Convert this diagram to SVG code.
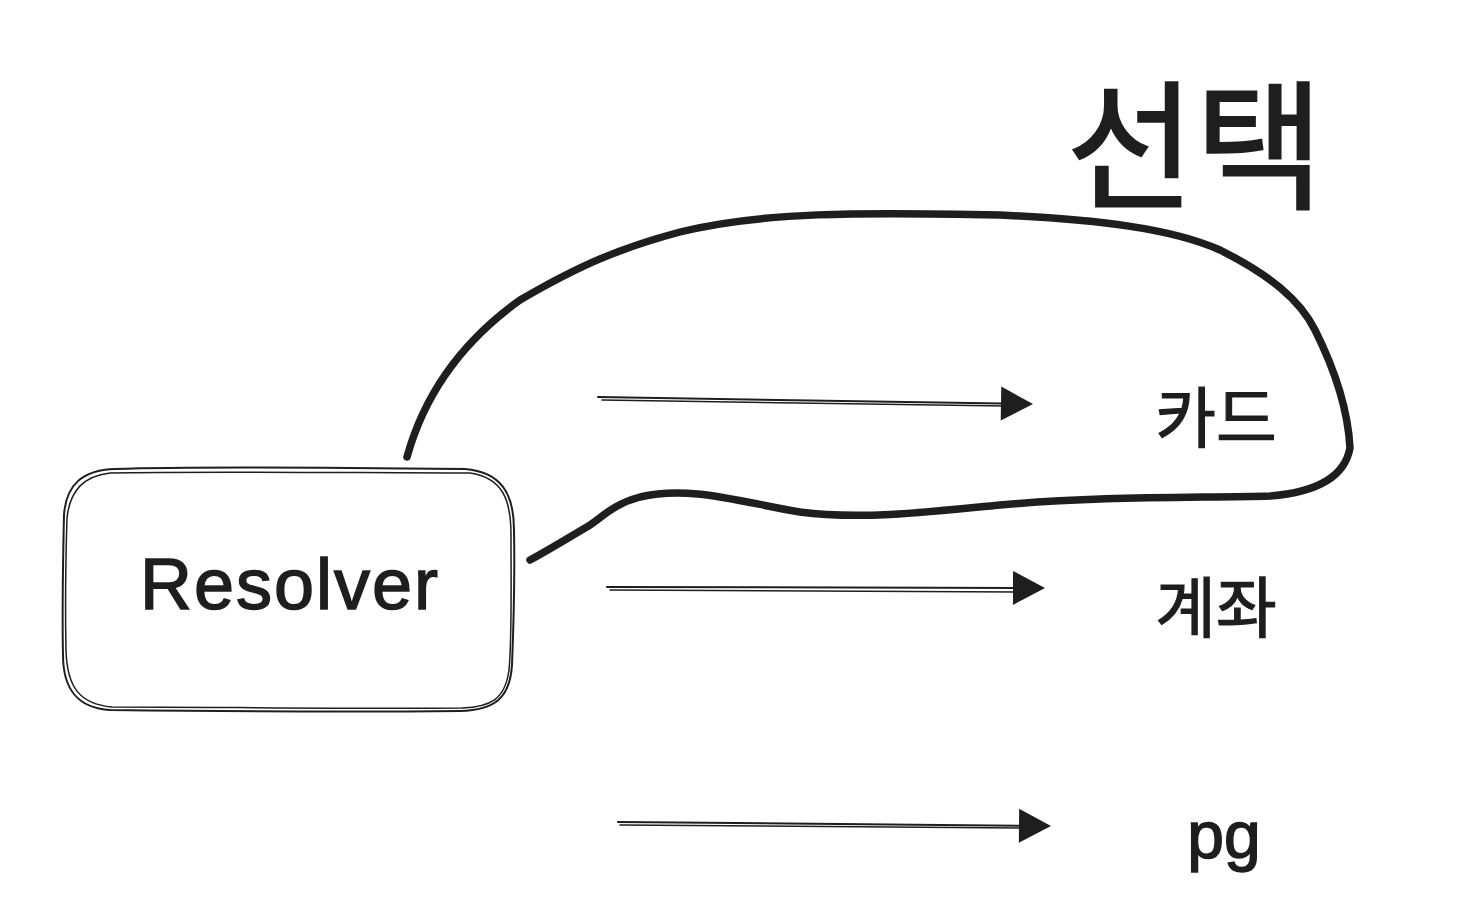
<svg xmlns="http://www.w3.org/2000/svg" width="1476" height="916" viewBox="0 0 1476 916">
<style>
.t{font-family:"Noto Sans CJK KR","Liberation Sans",sans-serif;fill:#1e1e1e;stroke:#1e1e1e}
.ln{fill:none;stroke:#1e1e1e;stroke-linecap:round;stroke-linejoin:round}
</style>
<defs>
<marker id="ah" viewBox="0 0 10 10" refX="9" refY="5" markerWidth="10" markerHeight="10" markerUnits="userSpaceOnUse" orient="auto" overflow="visible">
<path d="M-20,-12 L12,5 L-20,22 Z" fill="#1e1e1e" stroke="none"/>
</marker>
</defs>
<rect width="1476" height="916" fill="#fff"/>
<g id="resolver">
<path class="ln" stroke-width="2" d="M115,469 C200,466 380,468 465,469 C500,472 514,492 514,530 C515,580 513,640 512,665 C510,698 495,710 460,711 C360,712 200,711 110,710 C78,708 63,690 63,655 C62,610 63,560 64,515 C66,485 82,470 115,469 Z"/>
<path class="ln" stroke-width="1.5" d="M110,473 C210,471 370,473 470,473 C503,478 511,500 511,535 C511,590 512,640 509,670 C505,700 490,707 462,708 C350,709 210,707 112,707 C80,704 67,688 66,650 C65,600 66,550 67,518 C70,490 84,476 110,473 Z"/>
<text class="t" x="290" y="609" font-size="72" text-anchor="middle" stroke-width="1.5" letter-spacing="2" style="font-family:'Liberation Sans',sans-serif">Resolver</text>
</g>
<g id="loop">
<path class="ln" stroke-width="7.5" d="M407,457 C420,410 450,350 520,300 C580,265 620,248 680,232 C760,212 860,212 1000,215 C1100,220 1170,228 1220,250 C1270,275 1300,300 1315,330 C1335,370 1348,410 1350,448 C1345,475 1320,492 1270,496 C1200,498 1100,496 1000,505 C930,512 860,520 800,512 C740,502 690,485 640,497 C610,505 600,520 585,528 C565,540 545,552 530,560"/>
</g>
<g id="label-select">
<text class="t" x="1195" y="198" font-size="140" text-anchor="middle" stroke-width="2">선택</text>
</g>
<g id="card"><text class="t" x="1216" y="442" font-size="66" text-anchor="middle" stroke-width="1.2">카드</text></g>
<g id="account"><text class="t" x="1216" y="632" font-size="66" text-anchor="middle" stroke-width="1.2">계좌</text></g>
<g id="pg"><text class="t" x="1224" y="858" font-size="66" text-anchor="middle" stroke-width="1.5" style="font-family:'Liberation Sans',sans-serif">pg</text></g>
<g id="connectors">
<path class="ln" stroke-width="2" d="M598,397 L1030,404" marker-end="url(#ah)"/>
<path class="ln" stroke-width="1.5" d="M602,400 L1005,406"/>
<path class="ln" stroke-width="2" d="M607,587 L1042,588" marker-end="url(#ah)"/>
<path class="ln" stroke-width="1.5" d="M610,590 L1030,592"/>
<path class="ln" stroke-width="2" d="M618,822 L1048,826" marker-end="url(#ah)"/>
<path class="ln" stroke-width="1.5" d="M620,825 L1020,828"/>
</g>
</svg>
